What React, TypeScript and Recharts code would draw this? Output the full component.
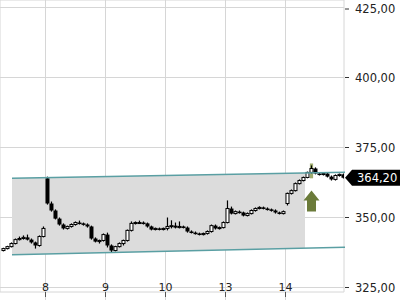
import {
  ComposedChart,
  Bar,
  Area,
  XAxis,
  YAxis,
  CartesianGrid,
  ReferenceLine,
  ReferenceDot,
  ReferenceArea,
} from "recharts";

// [open, high, low, close], one slot per candle
const candles: [number, number, number, number][] = [
  [338.2, 339.2, 337.9, 338.9],
  [338.9, 339.9, 338.6, 339.6],
  [339.6, 341.1, 339.3, 340.7],
  [340.7, 342.5, 340.4, 342.1],
  [342.1, 343.2, 341.8, 342.5],
  [342.5, 343.6, 342.1, 342.9],
  [342.9, 343.9, 341.8, 342.1],
  [342.1, 342.5, 340.7, 341.1],
  [341.1, 341.4, 338.9, 340.0],
  [340.0, 343.6, 339.6, 343.2],
  [343.2, 346.8, 342.9, 346.1],
  // day 8
  [364.0, 364.6, 354.6, 355.0],
  [355.0, 355.7, 352.1, 352.5],
  [352.5, 352.9, 349.3, 349.6],
  [349.6, 350.0, 347.1, 347.5],
  [347.5, 347.9, 345.7, 346.1],
  [346.1, 347.1, 345.7, 346.8],
  [346.8, 347.9, 346.4, 347.5],
  [347.5, 348.6, 347.1, 348.2],
  [348.2, 348.9, 347.5, 347.9],
  [347.9, 348.2, 347.1, 347.5],
  [347.5, 347.9, 346.4, 346.8],
  [346.8, 347.1, 342.1, 342.5],
  [342.5, 342.9, 341.1, 341.4],
  [341.4, 342.1, 340.7, 341.8],
  [341.8, 344.3, 341.4, 343.9],
  // day 9
  [343.9, 344.6, 339.3, 340.0],
  [340.0, 340.4, 337.5, 338.2],
  [338.2, 339.9, 337.9, 339.6],
  [339.6, 341.1, 339.3, 340.7],
  [340.7, 342.1, 340.0, 341.8],
  [341.8, 345.7, 341.4, 345.4],
  [345.4, 348.6, 345.0, 347.9],
  [347.9, 348.6, 347.5, 348.2],
  [348.2, 348.9, 347.9, 348.2],
  [348.2, 348.6, 347.5, 347.9],
  [347.9, 348.2, 346.4, 346.8],
  [346.8, 347.1, 345.4, 345.7],
  [345.7, 346.4, 345.4, 346.1],
  [346.1, 346.4, 345.4, 345.7],
  [345.7, 346.4, 345.4, 346.1],
  // day 10
  [346.1, 350.0, 345.4, 346.8],
  [346.8, 349.0, 346.1, 347.1],
  [347.1, 348.2, 346.1, 346.4],
  [346.4, 348.6, 346.1, 346.8],
  [346.8, 347.1, 346.1, 346.4],
  [346.4, 346.8, 344.6, 345.0],
  [345.0, 345.4, 344.3, 344.6],
  [344.6, 345.0, 343.9, 344.3],
  [344.3, 344.6, 343.6, 343.9],
  [343.9, 344.6, 343.6, 344.3],
  [344.3, 345.4, 343.9, 345.0],
  [345.0, 347.5, 344.6, 347.1],
  [347.1, 347.5, 345.7, 346.1],
  [346.1, 346.8, 345.7, 346.4],
  [346.4, 348.6, 346.1, 348.2],
  // day 13
  [348.2, 356.1, 347.9, 353.2],
  [353.2, 353.9, 351.1, 351.4],
  [351.4, 352.5, 351.1, 352.1],
  [352.1, 352.5, 351.4, 351.8],
  [351.8, 352.1, 350.4, 350.7],
  [350.7, 351.8, 350.4, 351.4],
  [351.4, 352.9, 351.1, 352.5],
  [352.5, 353.6, 352.1, 353.2],
  [353.2, 354.0, 352.9, 353.6],
  [353.6, 353.9, 352.9, 353.2],
  [353.2, 353.6, 352.5, 352.9],
  [352.9, 353.2, 352.1, 352.5],
  [352.5, 352.9, 351.4, 351.8],
  [351.8, 352.1, 351.1, 351.4],
  [351.4, 352.5, 351.1, 352.1],
  // day 14
  [355.0, 358.9, 354.3, 358.6],
  [358.6, 360.0, 358.2, 359.6],
  [359.6, 362.5, 359.3, 362.1],
  [362.1, 363.6, 361.8, 363.2],
  [363.2, 364.6, 362.9, 364.3],
  [364.3, 366.4, 364.0, 366.1],
  [366.1, 368.6, 365.7, 367.5],
  [367.5, 367.9, 365.4, 365.7],
  [365.7, 366.1, 365.0, 365.4],
  [365.4, 366.1, 365.0, 365.7],
  [365.7, 366.1, 364.3, 364.6],
  [364.6, 365.0, 363.2, 363.6],
  [363.6, 365.4, 363.2, 365.0],
  [365.0, 365.7, 364.6, 365.4],
  [365.4, 365.7, 363.9, 364.2],
];

const dayTicks = [11, 26, 41, 56, 71];
const dayLabels = ["8", "9", "10", "13", "14"];
const priceTicks = [325, 350, 375, 400, 425];
const lastPrice = 364.2;

// trend channel (slot position, price)
const channelX = [2.625, 85.875];
const channelTop = [364.0, 366.2];
const channelBottom = [336.7, 339.4];
const fillX = [2.625, 75.875];
const fillTop = [364.0, 365.9];
const fillBottom = [336.7, 339.1];

// buy signal
const signalSlot = 77;
const signalHigh = 369.3;
const signalLow = 364.0;
const arrowTop = 359.6;

const data = candles.map(([o, h, l, c], i) => ({ x: i + 0.5, o, h, l, c }));
const fillData = fillX.map((x, i) => ({ x, band: [fillBottom[i], fillTop[i]] }));

const FONT = "'DejaVu Sans', Verdana, sans-serif";

function Candle(props: any) {
  const { x, y, width, height, payload } = props;
  const { o, h, l, c } = payload;
  const cx = x + width / 2;
  const span = h - l || 1;
  const py = (v: number) => y + ((h - v) / span) * height;
  const top = py(Math.max(o, c));
  const bot = py(Math.min(o, c));
  const up = c >= o;
  return (
    <g>
      <line x1={cx} x2={cx} y1={py(h)} y2={py(l)} stroke="#000" strokeWidth={1.2} />
      {up ? (
        <rect x={cx - 1.5} y={top} width={3} height={Math.max(bot - top, 1)} fill="#fff" stroke="#000" strokeWidth={1} />
      ) : (
        <rect x={cx - 2} y={top} width={4} height={Math.max(bot - top, 1.5)} fill="#000" />
      )}
    </g>
  );
}

function DayTick(props: any) {
  const { x, y, payload } = props;
  const i = dayTicks.indexOf(payload.value);
  return (
    <g>
      <line x1={x} x2={x} y1={y} y2={y + 8} stroke="#d6d6d6" />
      <line x1={x} x2={x} y1={y} y2={y + 5} stroke="#555" />
      <text x={x} y={y - 1} textAnchor="middle" fontSize={11} fill="#222" fontFamily={FONT}>
        {dayLabels[i]}
      </text>
    </g>
  );
}

function PriceTick(props: any) {
  const { x, y, payload } = props;
  return (
    <g>
      <line x1={x + 1} x2={x + 5} y1={y} y2={y} stroke="#333" />
      <text x={x + 11} y={y} dy="0.36em" fontSize={11.5} fill="#222" fontFamily={FONT}>
        {payload.value.toFixed(2).replace(".", ",")}
      </text>
    </g>
  );
}

function PriceTag(props: any) {
  const { viewBox } = props;
  const x0 = viewBox.x + viewBox.width + 1;
  const y0 = viewBox.y;
  const pts = `${x0},${y0} ${x0 + 7},${y0 - 8} 400,${y0 - 8} 400,${y0 + 8} ${x0 + 7},${y0 + 8}`;
  return (
    <g>
      <polygon points={pts} fill="#000" />
      <text x={x0 + 12} y={y0} dy="0.36em" fontSize={11.5} fill="#fff" fontFamily={FONT}>
        {lastPrice.toFixed(2).replace(".", ",")}
      </text>
    </g>
  );
}

function Arrow(props: any) {
  const { cx, cy } = props;
  const pts = [
    [cx, cy],
    [cx + 8, cy + 10],
    [cx + 4.5, cy + 10],
    [cx + 4.5, cy + 21],
    [cx - 4.5, cy + 21],
    [cx - 4.5, cy + 10],
    [cx - 8, cy + 10],
  ]
    .map((p) => p.join(","))
    .join(" ");
  return <polygon points={pts} fill="#6b7b3a" />;
}

export default function App() {
  return (
    <div style={{ position: "absolute", left: 0, top: 0, background: "#fff" }}>
      <ComposedChart
        width={400}
        height={300}
        data={data}
        margin={{ top: 0, right: 0, bottom: 0, left: 0 }}
        style={{ fontFamily: FONT }}
      >
        <CartesianGrid stroke="#d6d6d6" />
        <XAxis
          dataKey="x"
          type="number"
          domain={[-0.375, 85.625]}
          ticks={dayTicks}
          interval={0}
          height={8}
          axisLine={false}
          tickLine={false}
          tickSize={0}
          tickMargin={0}
          tick={<DayTick />}
          allowDataOverflow
        />
        <YAxis
          orientation="right"
          type="number"
          domain={[323.393, 427.679]}
          ticks={priceTicks}
          width={56}
          axisLine={false}
          tickLine={false}
          tickSize={0}
          tickMargin={0}
          tick={<PriceTick />}
          allowDataOverflow
        />
        <Area
          data={fillData}
          dataKey="band"
          type="linear"
          stroke="none"
          fill="#dcdcdc"
          fillOpacity={1}
          dot={false}
          activeDot={false}
          isAnimationActive={false}
        />
        <ReferenceLine
          segment={[
            { x: channelX[0], y: channelTop[0] },
            { x: channelX[1], y: channelTop[1] },
          ]}
          stroke="#5a9fa3"
          strokeWidth={1.5}
          ifOverflow="visible"
        />
        <ReferenceLine
          segment={[
            { x: channelX[0], y: channelBottom[0] },
            { x: channelX[1], y: channelBottom[1] },
          ]}
          stroke="#5a9fa3"
          strokeWidth={1.5}
          ifOverflow="visible"
        />
        <ReferenceArea
          x1={signalSlot + 0.1}
          x2={signalSlot + 0.9}
          y1={signalLow}
          y2={signalHigh}
          fill="#94a35f"
          fillOpacity={0.9}
          stroke="none"
        />
        <Bar
          dataKey={(d: any) => [d.l, d.h]}
          barSize={3}
          shape={<Candle />}
          isAnimationActive={false}
        />
        <ReferenceDot
          x={signalSlot + 0.5}
          y={arrowTop}
          shape={<Arrow />}
          ifOverflow="visible"
        />
        <ReferenceLine
          y={lastPrice}
          stroke="none"
          ifOverflow="visible"
          label={<PriceTag />}
        />
      </ComposedChart>
    </div>
  );
}
